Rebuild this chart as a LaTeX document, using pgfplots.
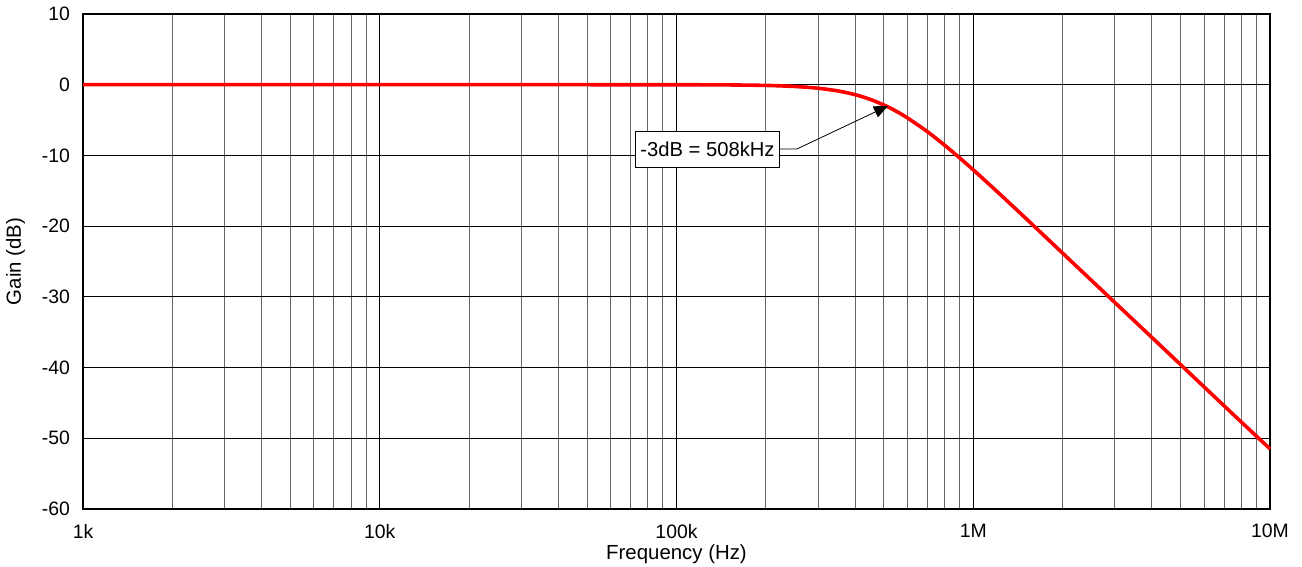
\documentclass[border=0pt]{standalone}
\usepackage{pgfplots}
\pgfplotsset{compat=1.18}
\usepackage{fontspec}
\setmainfont{Liberation Sans}
\usetikzlibrary{arrows.meta}
\begin{document}
\begin{tikzpicture}
\begin{axis}[
  scale only axis,
  width=593.5pt, height=247.5pt,
  xmode=log,
  xmin=1e3, xmax=1e7,
  ymin=-60, ymax=10,
  ytick={-60,-50,-40,-30,-20,-10,0,10},
  xtick={1e3,1e4,1e5,1e6,1e7},
  xticklabels={1k,10k,100k,1M,10M},
  /pgf/number format/assume math mode=true,
  ticklabel style={font=\fontsize{9.7}{11}\selectfont},
  label style={font=\fontsize{10.2}{12}\selectfont},
  major tick length=0pt, minor tick length=0pt,
  xmajorgrids, xminorgrids, ymajorgrids,
  major grid style={black, line width=0.5pt},
  minor grid style={black!60, line width=0.5pt},
  axis line style={black, line width=1.4pt},
  yticklabel style={xshift=-3pt},
  xticklabel style={yshift=-4pt},
  xlabel={Frequency (Hz)},
  ylabel={Gain (dB)},
  xlabel style={yshift=3.5pt},
  ylabel style={yshift=1.5pt},
  clip=false,
  axis on top=false,
]
\addplot[red, line width=1.8pt, smooth] coordinates {
(1e3,0) (1e4,0) (5e4,0) (1e5,-0.007) (1.5e5,-0.033) (2e5,-0.103) (2.5e5,-0.248)
(3e5,-0.499) (3.5e5,-0.883) (4e5,-1.413) (4.5e5,-2.084) (5.08e5,-3.010)
(5.5e5,-3.755) (6e5,-4.692) (7e5,-6.632) (8e5,-8.543) (9e5,-10.355)
(1e6,-12.045) (1.2e6,-15.07) (1.5e6,-18.865) (2e6,-23.82) (3e6,-30.80)
(4e6,-35.75) (5e6,-39.6) (6e6,-42.75) (7e6,-45.4) (8e6,-47.7) (1e7,-51.5)
};
\coordinate (sw) at (rel axis cs:0,0);
\coordinate (ne) at (rel axis cs:1,1);
\coordinate (tip) at (axis cs:5.16e5,-3.0);
\coordinate (knee) at (axis cs:2.546e5,-9.09);
\node[draw=black, line width=0.4pt, fill=white, inner sep=0pt, minimum width=72pt, minimum height=18pt,
  font=\fontsize{10.1}{12}\selectfont, anchor=east] (box) at (axis cs:2.23e5,-9.09) {-3dB = 508kHz};
\end{axis}
\draw[line width=0.4pt, -{Triangle[length=7pt,width=6pt]}] (box.east) -- (knee) -- (tip);
\pgfresetboundingbox
\path (sw) ++(-41.5pt,-29pt) coordinate (bl);
\path (ne) ++(16pt,7pt) coordinate (tr);
\path[use as bounding box] (bl) rectangle (tr);
\end{tikzpicture}
\end{document}
